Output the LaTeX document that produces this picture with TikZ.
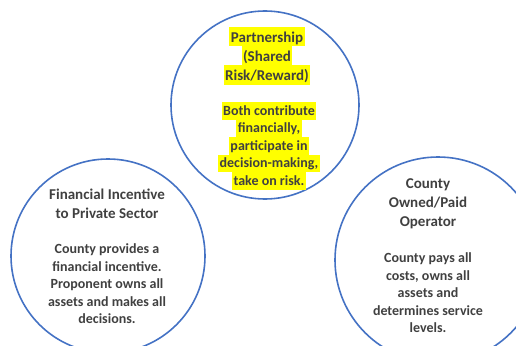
\documentclass[tikz,border=0pt]{standalone}
\usepackage{fontspec}
\setmainfont{Carlito}

\definecolor{ringblue}{HTML}{4472C4}
\definecolor{textgray}{HTML}{404040}
\definecolor{hlyellow}{HTML}{FFFF00}

% yellow highlight behind one line of text
\newcommand{\hlhead}[1]{{\setlength{\fboxsep}{0pt}\colorbox{hlyellow}{\hspace{1.5pt}\rule[-4.5pt]{0pt}{19pt}#1\hspace{1.5pt}}}}
\newcommand{\hlbody}[1]{{\setlength{\fboxsep}{0pt}\colorbox{hlyellow}{\hspace{1.5pt}\rule[-4.3pt]{0pt}{17.5pt}#1\hspace{1.5pt}}}}

\tikzset{
  ring/.style={circle, draw=ringblue, line width=1.6pt, minimum size=#1},
  headtext/.style={align=center, text=textgray, font=\fontsize{15}{19}\selectfont\bfseries},
  bodytext/.style={align=center, text=textgray, font=\fontsize{14}{17.5}\selectfont\bfseries},
}

\begin{document}
\begin{tikzpicture}[x=1pt,y=-1pt]
    \useasboundingbox (0,0) rectangle (516,345);

    % Draw the three circles
    \node[ring=188pt] (partner) at (265,105) {};
    \node[ring=194pt] (incentive) at (108,256) {};
    \node[ring=206pt] (county) at (438,260) {};

    % Partnership, highlighted
    \node[headtext] (partnerhead) at (267,56) {\hlhead{Partnership}\\\hlhead{(Shared}\\\hlhead{Risk/Reward)}};
    \node[bodytext] (partnerbody) at (269,146) {\hlbody{Both contribute}\\\hlbody{financially,}\\\hlbody{participate in}\\\hlbody{decision-making,}\\\hlbody{take on risk.}};

    % Financial incentive
    \node[headtext] (incentivehead) at (107,204) {Financial Incentive\\to Private Sector};
    \node[bodytext] (incentivebody) at (107,284) {County provides a\\financial incentive.\\Proponent owns all\\assets and makes all\\decisions.};

    % County owned
    \node[headtext] (countyhead) at (428,204) {County\\Owned/Paid\\Operator};
    \node[bodytext] (countybody) at (428,293) {County pays all\\costs, owns all\\assets and\\determines service\\levels.};

\end{tikzpicture}
\end{document}
